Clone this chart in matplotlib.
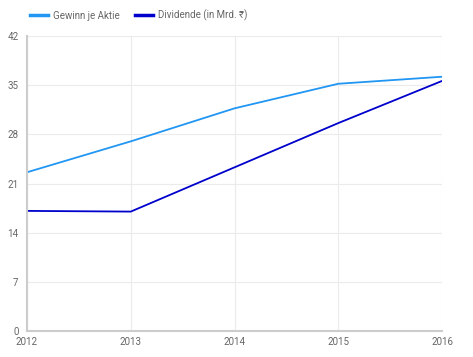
import matplotlib.pyplot as plt

plt.rcParams['font.family'] = ['Roboto', 'DejaVu Sans']

years = [2012, 2013, 2014, 2015, 2016]
gewinn = [22.6, 27.0, 31.7, 35.2, 36.2]
dividende = [17.1, 17.0, 23.3, 29.6, 35.6]
yticks = [0, 7, 14, 21, 28, 35, 42]

c_gewinn = '#2196F3'
c_div = '#0000CC'
grid_c = '#EBEBEB'
txt_c = '#666666'

fig = plt.figure(figsize=(4.73, 3.57), dpi=100)
ax = fig.add_axes([27 / 473, 26 / 357, 415 / 473, 295 / 357])

ax.plot(years, gewinn, color=c_gewinn, lw=1.3, label='Gewinn je Aktie')
ax.plot(years, dividende, color=c_div, lw=1.3, label='Dividende (in Mrd. ₹)')

ax.set_xlim(2012, 2016)
ax.set_ylim(0, 42)
ax.set_xticks(years)
ax.set_yticks(yticks)
ax.grid(True, color=grid_c, lw=0.8)
ax.set_axisbelow(True)
for s in ['top', 'right']:
    ax.spines[s].set_visible(False)
for s in ['left', 'bottom']:
    ax.spines[s].set_color('#CCCCCC')
    ax.spines[s].set_linewidth(1.5)
ax.tick_params(length=0, labelsize=7, colors=txt_c, pad=4)
ax.tick_params(axis='y', pad=6)

leg = fig.legend(loc='upper left', bbox_to_anchor=(26 / 473, 1 - 6 / 357), ncol=2,
                 frameon=False, fontsize=7, handlelength=1.9, handletextpad=0.5,
                 columnspacing=1.5, borderaxespad=0)
for t in leg.get_texts():
    t.set_color(txt_c)
for h in leg.get_lines():
    h.set_linewidth(2.5)

fig.savefig('out.png', dpi=100)
